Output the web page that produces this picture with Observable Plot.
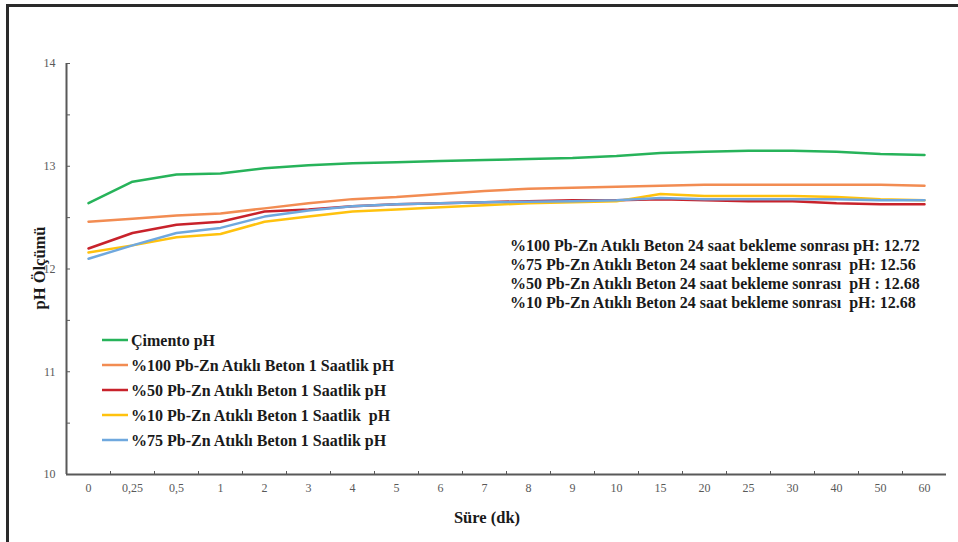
<!DOCTYPE html>
<html>
<head>
<meta charset="utf-8">
<script src="https://cdn.jsdelivr.net/npm/d3@7"></script>
<script src="https://cdn.jsdelivr.net/npm/@observablehq/plot@0.6"></script>
<style>
  html, body { margin: 0; padding: 0; background: #fff; }
  #chart { position: relative; width: 958px; height: 542px; overflow: hidden; }
  #chart svg text { white-space: pre; }
</style>
</head>
<body>
<div id="chart"></div>
<script>
// Measurement times (minutes) shown as categories on the x axis
const times = ["0", "0,25", "0,5", "1", "2", "3", "4", "5", "6", "7", "8", "9", "10", "15", "20", "25", "30", "40", "50", "60"];

// pH readings per series, one value per time
const cimento = [12.64, 12.85, 12.92, 12.93, 12.98, 13.01, 13.03, 13.04, 13.05, 13.06, 13.07, 13.08, 13.10, 13.13, 13.14, 13.15, 13.15, 13.14, 13.12, 13.11];
const pbzn100 = [12.46, 12.49, 12.52, 12.54, 12.59, 12.64, 12.68, 12.70, 12.73, 12.76, 12.78, 12.79, 12.80, 12.81, 12.82, 12.82, 12.82, 12.82, 12.82, 12.81];
const pbzn50  = [12.20, 12.35, 12.43, 12.46, 12.56, 12.58, 12.61, 12.63, 12.64, 12.65, 12.66, 12.67, 12.67, 12.68, 12.67, 12.66, 12.66, 12.64, 12.63, 12.63];
const pbzn10  = [12.16, 12.23, 12.31, 12.34, 12.46, 12.51, 12.56, 12.58, 12.60, 12.62, 12.64, 12.65, 12.66, 12.73, 12.71, 12.71, 12.71, 12.70, 12.68, 12.67];
const pbzn75  = [12.10, 12.23, 12.35, 12.40, 12.51, 12.57, 12.61, 12.63, 12.64, 12.65, 12.655, 12.66, 12.67, 12.69, 12.68, 12.68, 12.68, 12.68, 12.67, 12.67];

// Series names (legend order) and colours
const seriesNames = [
  "Çimento pH",
  "%100 Pb-Zn Atıklı Beton 1 Saatlik pH",
  "%50 Pb-Zn Atıklı Beton 1 Saatlik pH",
  "%10 Pb-Zn Atıklı Beton 1 Saatlik  pH",
  "%75 Pb-Zn Atıklı Beton 1 Saatlik pH"
];
const seriesValues = [cimento, pbzn100, pbzn50, pbzn10, pbzn75];
const seriesColors = ["#27b35a", "#f28c52", "#c8222b", "#ffc20e", "#6fa8de"];

// 24-hour readings written in the note
const notePrefixes = [
  "%100 Pb-Zn Atıklı Beton 24 saat bekleme sonrası pH: ",
  "%75 Pb-Zn Atıklı Beton 24 saat bekleme sonrası  pH: ",
  "%50 Pb-Zn Atıklı Beton 24 saat bekleme sonrası  pH : ",
  "%10 Pb-Zn Atıklı Beton 24 saat bekleme sonrası  pH: "
];
const noteValues = [12.72, 12.56, 12.68, 12.68];

// y ticks: labelled every unit, tick marks every half unit
const yLabelTicks = [10, 11, 12, 13, 14];
const yTickMarks = [10.5, 11, 11.5, 12, 12.5, 13, 13.5, 14];

const xTitle = "Süre (dk)";
const yTitle = "pH Ölçümü";

// Long-form table for the line mark
const rows = [];
seriesNames.forEach((name, s) => {
  seriesValues[s].forEach((v, i) => rows.push({series: name, i, value: v}));
});
const indices = times.map((_, i) => i);
const boundaries = times.slice(1).map((_, k) => k + 0.5);

const serif = "'Liberation Serif', 'Times New Roman', serif";

const plot = Plot.plot({
  width: 958,
  height: 542,
  marginLeft: 66,
  marginRight: 12,
  marginTop: 63,
  marginBottom: 68,
  style: {fontFamily: serif, fontSize: "12px", color: "#595959", background: "transparent"},
  x: {type: "linear", domain: [-0.5, times.length - 0.5]},
  y: {domain: [10, 14]},
  color: {domain: seriesNames, range: seriesColors},
  marks: [
    // inward tick marks
    Plot.axisY(yTickMarks, {tickSize: 4, dx: 4, tickFormat: () => "", label: null}),
    Plot.axisX(boundaries, {tickSize: 3, dy: -3, tickFormat: () => "", label: null}),
    // tick labels
    Plot.axisY(yLabelTicks, {tickSize: 0, tickPadding: 11, tickFormat: d => String(d), label: null}),
    Plot.axisX(indices, {tickSize: 0, tickPadding: 9, tickFormat: i => times[i], label: null}),
    // axis lines
    Plot.ruleX([-0.5], {stroke: "#595959", strokeWidth: 2}),
    Plot.ruleY([10], {stroke: "#595959", strokeWidth: 2}),
    // series
    Plot.line(rows, {x: "i", y: "value", z: "series", stroke: "series", strokeWidth: 2.5, curve: "linear"})
  ]
});

document.getElementById("chart").appendChild(plot);

const svg = d3.select(plot);

// outer frame (top and left edges)
svg.append("path")
  .attr("d", "M7.5,542V5.5H958")
  .attr("fill", "none")
  .attr("stroke", "#2a2a2a")
  .attr("stroke-width", 3);

// axis titles
const titles = svg.append("g")
  .attr("font-family", serif)
  .attr("font-weight", "bold")
  .attr("font-size", 16.5)
  .attr("text-anchor", "middle")
  .attr("fill", "#1a1a1a");
titles.append("text")
  .attr("transform", "translate(39,268) rotate(-90)")
  .attr("dy", "0.35em")
  .text(yTitle);
titles.append("text")
  .attr("x", 487).attr("y", 517).attr("dy", "0.35em")
  .text(xTitle);

// legend
const legend = svg.append("g")
  .attr("font-family", serif)
  .attr("font-weight", "bold")
  .attr("font-size", 16)
  .attr("text-anchor", "start")
  .attr("fill", "#1a1a1a");
seriesNames.forEach((name, k) => {
  const y = 340 + k * 25;
  legend.append("line")
    .attr("x1", 102).attr("x2", 128).attr("y1", y).attr("y2", y)
    .attr("stroke", seriesColors[k]).attr("stroke-width", 2.5);
  legend.append("text")
    .attr("x", 131).attr("y", y).attr("dy", "0.35em")
    .style("white-space", "pre")
    .text(name);
});

// 24-hour note
const note = svg.append("g")
  .attr("font-family", serif)
  .attr("font-weight", "bold")
  .attr("font-size", 16)
  .attr("text-anchor", "start")
  .attr("fill", "#1a1a1a");
notePrefixes.forEach((p, k) => {
  note.append("text")
    .attr("x", 510).attr("y", 245 + k * 19).attr("dy", "0.35em")
    .style("white-space", "pre")
    .text(p + noteValues[k].toFixed(2));
});
</script>
</body>
</html>
